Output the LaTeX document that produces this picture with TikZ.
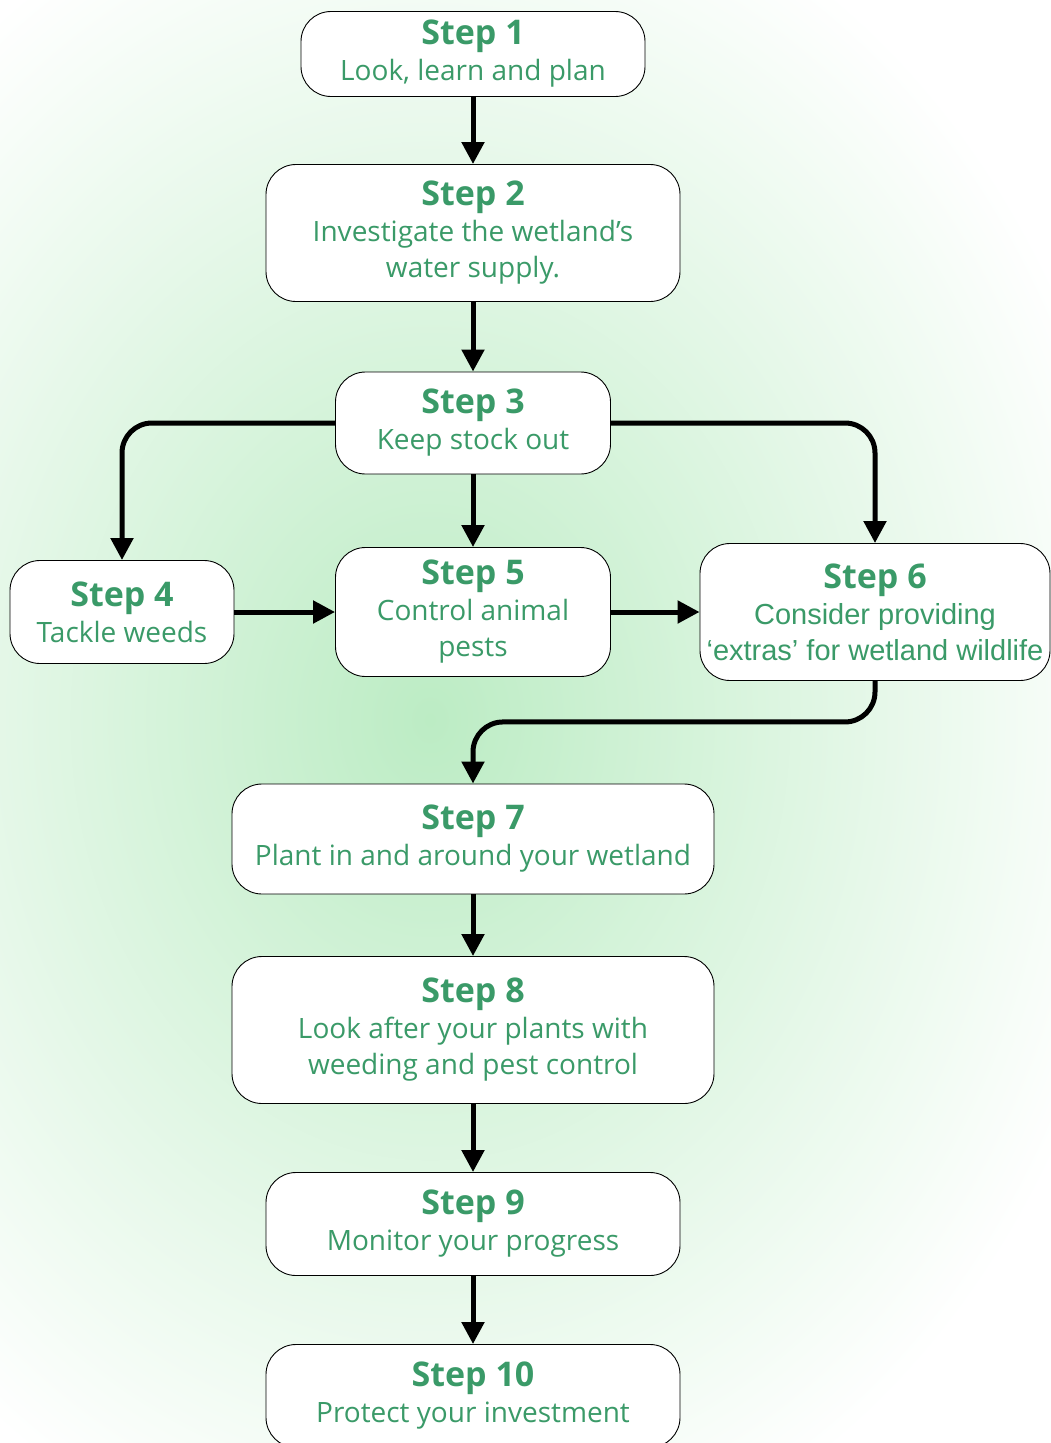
\documentclass[tikz,border=0pt]{standalone}
\usepackage{fontspec}
\setmainfont{Open Sans}
\newfontfamily\arialfont{Liberation Sans}
\usetikzlibrary{arrows.meta}
\definecolor{stepgreen}{RGB}{58,154,104}
\definecolor{bggreen}{RGB}{188,236,196}

\begin{document}
\begin{tikzpicture}[x=1pt, y=-1pt,
        stepbox/.style={draw=black, line width=0.9pt, fill=white, rounded corners=30pt, align=center, text=stepgreen, inner sep=0pt, font=\fontsize{28}{36}\selectfont},
        flow/.style={line width=5pt, rounded corners=30pt, -{Triangle[width=22pt,length=22pt]}}]
        % Background:
        \useasboundingbox (0, 0) rectangle (1051, 1443);
        \fill[white] (0, 0) rectangle (1051, 1443);
        \begin{scope}
        \clip (0, 0) rectangle (1051, 1443);
        \shade[inner color=bggreen, outer color=white] (430, 720) ellipse [x radius=720, y radius=880];
        \end{scope}
        % Boxes:
        \draw node[stepbox, minimum width=344, minimum height=85] (S1) at (473, 54) {{\bfseries\fontsize{34}{36}\selectfont Step 1}\\Look, learn and plan};
        \draw node[stepbox, minimum width=414, minimum height=137] (S2) at (473, 233) {{\bfseries\fontsize{34}{36}\selectfont Step 2}\\Investigate the wetland’s\\water supply.};
        \draw node[stepbox, minimum width=275, minimum height=102] (S3) at (473, 423) {{\bfseries\fontsize{34}{36}\selectfont Step 3}\\Keep stock out};
        \draw node[stepbox, minimum width=224, minimum height=103] (S4) at (122, 612) {{\bfseries\fontsize{34}{36}\selectfont Step 4}\\Tackle weeds};
        \draw node[stepbox, minimum width=275, minimum height=129] (S5) at (473, 612) {{\bfseries\fontsize{34}{36}\selectfont Step 5}\\Control animal\\pests};
        \draw node[stepbox, minimum width=350, minimum height=137] (S6) at (875, 612) {{\bfseries\fontsize{34}{36}\selectfont Step 6}\\{\arialfont\fontsize{29}{36}\selectfont Consider providing}\\{\arialfont\fontsize{29}{36}\selectfont ‘extras’ for wetland wildlife}};
        \draw node[stepbox, minimum width=482, minimum height=110] (S7) at (473, 839) {{\bfseries\fontsize{34}{36}\selectfont Step 7}\\Plant in and around your wetland};
        \draw node[stepbox, minimum width=482, minimum height=147] (S8) at (473, 1030) {{\bfseries\fontsize{34}{36}\selectfont Step 8}\\Look after your plants with\\weeding and pest control};
        \draw node[stepbox, minimum width=414, minimum height=103] (S9) at (473, 1224) {{\bfseries\fontsize{34}{36}\selectfont Step 9}\\Monitor your progress};
        \draw node[stepbox, minimum width=414, minimum height=103] (S10) at (473, 1396) {{\bfseries\fontsize{34}{36}\selectfont Step 10}\\Protect your investment};
        % Arrows:
        \draw[flow] (S1) -- (S2);
        \draw[flow] (S2) -- (S3);
        \draw[flow] (S3) -- (S5);
        \draw[flow] (S3.west) -| (S4.north);
        \draw[flow] (S3.east) -| (S6.north);
        \draw[flow] (S4) -- (S5);
        \draw[flow] (S5) -- (S6);
        \draw[flow] (S6.south) -- ++(0, 41) -| (S7.north);
        \draw[flow] (S7) -- (S8);
        \draw[flow] (S8) -- (S9);
        \draw[flow] (S9) -- (S10);
\end{tikzpicture}
\end{document}
